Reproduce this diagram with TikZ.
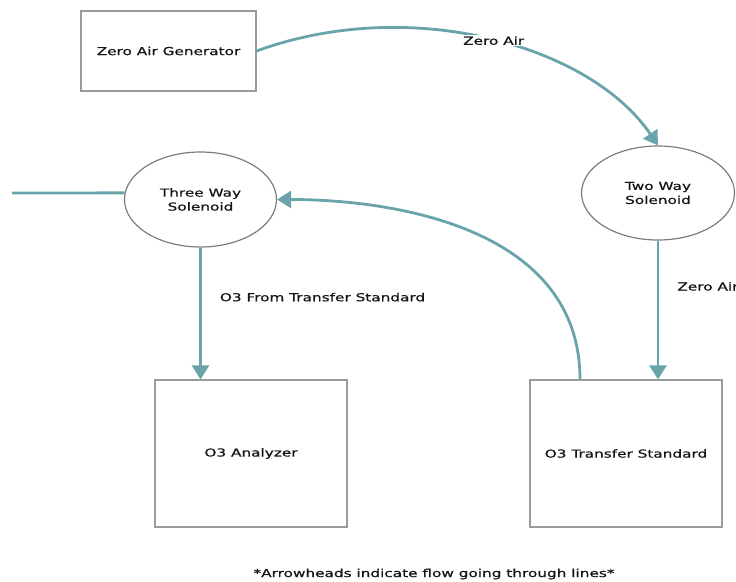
\documentclass[tikz,border=0pt]{standalone}
\usepackage{fontspec}
\setmainfont{DejaVu Sans}[FakeBold=0.5]
\usetikzlibrary{arrows.meta,shapes.geometric}
\definecolor{flow}{RGB}{104,164,170}
\definecolor{boxedge}{RGB}{155,155,155}
\definecolor{valveedge}{RGB}{125,125,125}
\definecolor{ink}{RGB}{20,20,20}
\newcommand{\wt}[1]{\scalebox{1.39}[1]{#1}}
\begin{document}
\begin{tikzpicture}[x=1pt,y=-1pt,
  lbl/.style={font=\fontsize{11}{14}\selectfont, text=ink, inner sep=0pt, align=center},
  boxnode/.style={draw=boxedge, line width=1.2pt, rectangle, lbl},
  valve/.style={draw=valveedge, line width=1.2pt, ellipse, lbl},
  flowline/.style={draw=flow, line width=2.8pt},
  tip/.style={-{Triangle[length=14pt,width=17pt]}}
]
\useasboundingbox (0,0) rectangle (736,581);

\node[boxnode, minimum width=175pt, minimum height=80pt] (zag) at (168.5,51) {\wt{Zero Air Generator}};
\node[valve, minimum width=152pt, minimum height=95pt] (tws) at (200.5,199.5) {\wt{Three Way}\\\wt{Solenoid}};
\node[valve, minimum width=153pt, minimum height=94pt] (twos) at (658,193) {\wt{Two Way}\\\wt{Solenoid}};
\node[boxnode, minimum width=192pt, minimum height=147pt] (o3a) at (251,453.5) {\wt{O3 Analyzer}};
\node[boxnode, minimum width=192pt, minimum height=147pt] (o3ts) at (626,453.5) {\wt{O3 Transfer Standard}};
\node[lbl] (note) at (434,574) {\wt{*Arrowheads indicate flow going through lines*}};

\coordinate (inlet) at (12,193);

\draw[flowline, tip] (zag.east) .. controls (410,-5) and (590,45) .. (twos.north)
  node[pos=0.51, lbl, fill=white, inner sep=1.5pt] {\wt{Zero Air}};
\draw[flowline, tip] (tws.south) -- (tws.south |- o3a.north)
  node[pos=0.376, lbl, anchor=west, xshift=18pt] {\wt{O3 From Transfer Standard}};
\draw[flowline, tip] (twos.south) -- (twos.south |- o3ts.north)
  node[pos=0.33, lbl, anchor=west, xshift=18pt] {\wt{Zero Air}};
\draw[flowline, tip] ([xshift=-46pt]o3ts.north) .. controls +(0,-150) and +(120,0) .. (tws.east);
\draw[flowline] (inlet) -- (tws.175);
\end{tikzpicture}
\end{document}
